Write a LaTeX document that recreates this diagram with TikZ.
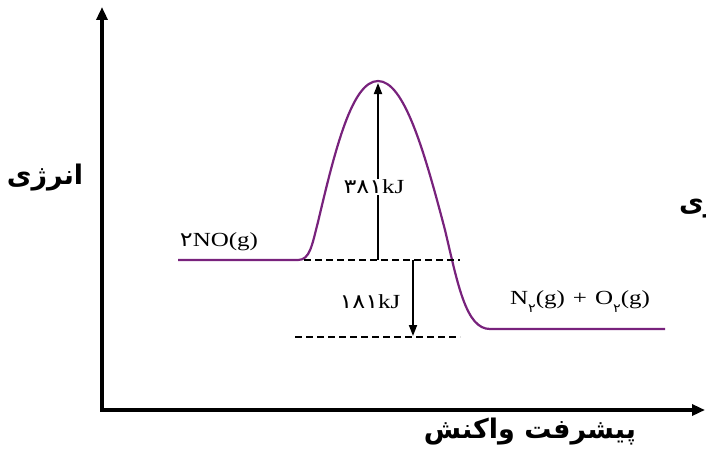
\documentclass[tikz,border=0pt]{standalone}
\usepackage{fontspec}
\setmainfont{Liberation Serif}[FakeStretch=1.25]
\newfontfamily\farsi[Script=Arabic]{DejaVu Sans}
\newfontfamily\fadig[Script=Arabic,FakeStretch=1.2]{DejaVu Sans}
\TeXXeTstate=1
\usetikzlibrary{arrows.meta}
\definecolor{curvepurple}{RGB}{120,34,124}
\newcommand{\fdig}[1]{{\fadig #1}}
\newcommand{\fsub}[1]{\raisebox{-8pt}{\fontsize{12}{12}\selectfont\fadig #1}}

\begin{document}
\begin{tikzpicture}[
    x=1pt, y=-1pt,
    axis/.style={{Triangle[length=13pt,width=11pt]}-{Triangle[length=13pt,width=11pt]}, line width=3.4pt},
    curve/.style={curvepurple, line width=2.2pt},
    level/.style={dash pattern=on 7pt off 4pt, line width=1.8pt},
    arrow/.style={-{Triangle[length=11pt,width=8pt]}, line width=1.8pt},
    chem/.style={font=\fontsize{20}{22}\selectfont, inner sep=1pt},
    axislabel/.style={font=\farsi\bfseries\fontsize{27}{30}\selectfont}
]
    \useasboundingbox (0,0) rectangle (706,452);
    \clip (0,0) rectangle (706,452);

    \coordinate (ytip) at (102,7);
    \coordinate (origin) at (102,410);
    \coordinate (xtip) at (705,410);
    \draw[axis] (ytip) -- (origin) -- (xtip);

    \node[axislabel] (energy) at (45,178) {\beginR انرژی\endR};
    \node[axislabel, anchor=west, inner sep=0pt] (energycut) at (679,205) {\beginR انرژی\endR};
    \node[axislabel] (progress) at (530,432) {\beginR پیشرفت واکنش\endR};

    % energy profile
    \draw[curve] (178,260) -- (298,260)
        .. controls (310,260) and (312,245) .. (318,222)
        .. controls (335,150) and (352,81) .. (378,81)
        .. controls (404,81) and (424,150) .. (445,230)
        .. controls (458,285) and (466,329) .. (490,329) -- (665,329);

    \coordinate (hi1) at (304,260);
    \coordinate (hi2) at (460,260);
    \coordinate (lo1) at (295,337);
    \coordinate (lo2) at (460,337);
    \draw[level] (hi1) -- (hi2);
    \draw[level] (lo1) -- (lo2);

    \node[chem] (reactant) at (219,242) {\fdig{۲}NO(g)};
    \node[chem] (product) at (580,302) {N\fsub{۲}(g)\hspace{8pt}+\hspace{8pt}O\fsub{۲}(g)};

    \coordinate (ebase) at (378,260);
    \coordinate (peak) at (378,83);
    \draw[arrow] (ebase) -- (peak);
    \node[chem, fill=white] (ea) at (374,187) {\fdig{۳۸۱}kJ};

    \coordinate (dtop) at (413,260);
    \coordinate (dbot) at (413,336);
    \draw[arrow] (dtop) -- (dbot);
    \node[chem] (dh) at (370,302) {\fdig{۱۸۱}kJ};
\end{tikzpicture}
\end{document}
